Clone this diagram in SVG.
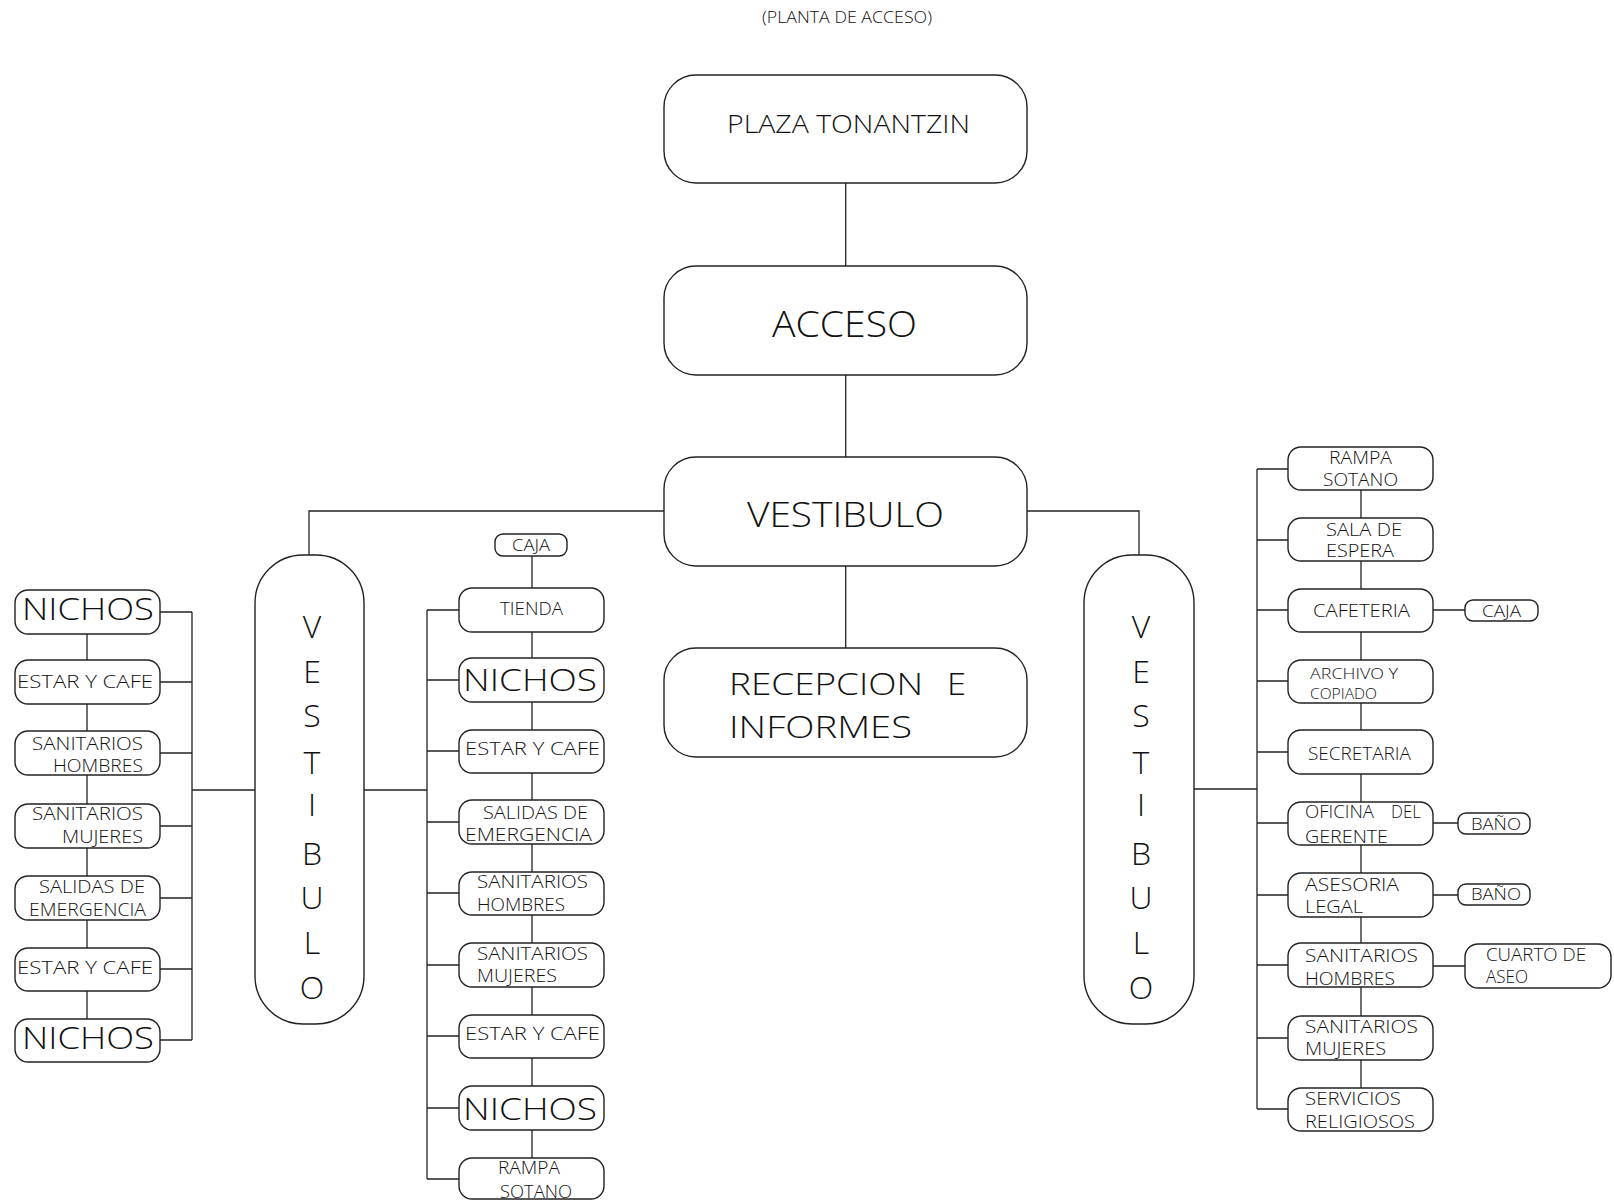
<svg xmlns="http://www.w3.org/2000/svg" width="1614" height="1200" viewBox="0 0 1614 1200">
<style>
.b{fill:#fff;stroke:#222;stroke-width:1.4}
.c{fill:none;stroke:#222;stroke-width:1.3}
text{font-family:"Open Sans","Liberation Sans",sans-serif;font-weight:300;fill:#111}
.s{font-size:18px}
.m{font-size:32px}
</style>
<rect width="1614" height="1200" fill="#fff"/>
<g id="connectors" class="c">
<path d="M845.7 183V266M845.7 375V457M845.7 566V648"/>
<path d="M664 511H309V555M1027 511H1139V555"/>
<path d="M255 790H192M192 612V1040M160 612H192M160 682H192M160 753H192M160 826H192M160 898H192M160 969H192M160 1040H192"/>
<path d="M87 634V1019"/>
<path d="M364 790H427M427 610V1179M427 610H459M427 680H459M427 751H459M427 822H459M427 893H459M427 965H459M427 1036H459M427 1108H459M427 1179H459"/>
<path d="M532 556V1158"/>
<path d="M1194 789H1257M1257 469V1109M1257 469H1288M1257 540H1288M1257 610H1288M1257 681H1288M1257 752H1288M1257 823H1288M1257 895H1288M1257 965H1288M1257 1038H1288M1257 1109H1288"/>
<path d="M1361 490V1088"/>
<path d="M1433 610H1465M1433 823H1458M1433 895H1458M1433 966H1465"/>
</g>
<text x="762" y="23" font-size="16" textLength="170" lengthAdjust="spacingAndGlyphs">(PLANTA DE ACCESO)</text>
<g id="plaza"><rect class="b" x="664" y="75" width="363" height="108" rx="32"/><text x="727" y="133" font-size="25" textLength="243" lengthAdjust="spacingAndGlyphs">PLAZA TONANTZIN</text></g>
<g id="acceso"><rect class="b" x="664" y="266" width="363" height="109" rx="32"/><text x="772" y="337" font-size="37" textLength="145" lengthAdjust="spacingAndGlyphs">ACCESO</text></g>
<g id="vestibulo"><rect class="b" x="664" y="457" width="363" height="109" rx="32"/><text x="747" y="527" font-size="35" textLength="197" lengthAdjust="spacingAndGlyphs">VESTIBULO</text></g>
<g id="recepcion"><rect class="b" x="664" y="648" width="363" height="109" rx="32"/><text x="729" y="695" font-size="32" textLength="194" lengthAdjust="spacingAndGlyphs">RECEPCION</text><text x="947" y="695" font-size="32" textLength="19" lengthAdjust="spacingAndGlyphs">E</text><text x="729" y="738" font-size="32" textLength="183" lengthAdjust="spacingAndGlyphs">INFORMES</text></g>
<g id="vest-left"><rect class="b" x="255" y="555" width="109" height="469" rx="48"/>
<g class="m" text-anchor="middle"><text x="312" y="638">V</text><text x="312" y="683">E</text><text x="312" y="727">S</text><text x="312" y="774">T</text><text x="312" y="816">I</text><text x="312" y="865">B</text><text x="312" y="909">U</text><text x="312" y="954">L</text><text x="312" y="999">O</text></g></g>
<g id="vest-right"><rect class="b" x="1084" y="555" width="110" height="469" rx="48"/>
<g class="m" text-anchor="middle"><text x="1141" y="638">V</text><text x="1141" y="683">E</text><text x="1141" y="727">S</text><text x="1141" y="774">T</text><text x="1141" y="816">I</text><text x="1141" y="865">B</text><text x="1141" y="909">U</text><text x="1141" y="954">L</text><text x="1141" y="999">O</text></g></g>
<g id="l1"><rect class="b" x="15" y="590" width="145" height="44" rx="13"/><text x="22" y="620" font-size="31" textLength="132" lengthAdjust="spacingAndGlyphs">NICHOS</text></g>
<g id="l2"><rect class="b" x="15" y="660" width="145" height="44" rx="13"/><text class="s" x="17" y="688" textLength="136" lengthAdjust="spacingAndGlyphs">ESTAR Y CAFE</text></g>
<g id="l3"><rect class="b" x="15" y="731" width="145" height="44" rx="13"/><text class="s" x="32" y="750" textLength="111" lengthAdjust="spacingAndGlyphs">SANITARIOS</text><text class="s" x="53" y="772" textLength="90" lengthAdjust="spacingAndGlyphs">HOMBRES</text></g>
<g id="l4"><rect class="b" x="15" y="804" width="145" height="44" rx="13"/><text class="s" x="32" y="820" textLength="111" lengthAdjust="spacingAndGlyphs">SANITARIOS</text><text class="s" x="62" y="843" textLength="81" lengthAdjust="spacingAndGlyphs">MUJERES</text></g>
<g id="l5"><rect class="b" x="15" y="876" width="145" height="44" rx="13"/><text class="s" x="39" y="893" textLength="106" lengthAdjust="spacingAndGlyphs">SALIDAS DE</text><text class="s" x="29" y="916" textLength="117" lengthAdjust="spacingAndGlyphs">EMERGENCIA</text></g>
<g id="l6"><rect class="b" x="15" y="948" width="145" height="43" rx="13"/><text class="s" x="17" y="974" textLength="136" lengthAdjust="spacingAndGlyphs">ESTAR Y CAFE</text></g>
<g id="l7"><rect class="b" x="15" y="1019" width="145" height="43" rx="13"/><text x="22" y="1049" font-size="31" textLength="132" lengthAdjust="spacingAndGlyphs">NICHOS</text></g>
<g id="m0"><rect class="b" x="495" y="534" width="72" height="22" rx="8"/><text x="512" y="551" font-size="16" textLength="38" lengthAdjust="spacingAndGlyphs">CAJA</text></g>
<g id="m1"><rect class="b" x="459" y="588" width="145" height="44" rx="13"/><text class="s" x="500" y="615" textLength="63" lengthAdjust="spacingAndGlyphs">TIENDA</text></g>
<g id="m2"><rect class="b" x="459" y="658" width="145" height="44" rx="13"/><text x="463" y="691" font-size="31" textLength="134" lengthAdjust="spacingAndGlyphs">NICHOS</text></g>
<g id="m3"><rect class="b" x="459" y="730" width="145" height="43" rx="13"/><text class="s" x="465" y="755" textLength="135" lengthAdjust="spacingAndGlyphs">ESTAR Y CAFE</text></g>
<g id="m4"><rect class="b" x="459" y="800" width="145" height="44" rx="13"/><text class="s" x="483" y="819" textLength="105" lengthAdjust="spacingAndGlyphs">SALIDAS DE</text><text class="s" x="465" y="841" textLength="127" lengthAdjust="spacingAndGlyphs">EMERGENCIA</text></g>
<g id="m5"><rect class="b" x="459" y="872" width="145" height="43" rx="13"/><text class="s" x="477" y="888" textLength="111" lengthAdjust="spacingAndGlyphs">SANITARIOS</text><text class="s" x="477" y="911" textLength="88" lengthAdjust="spacingAndGlyphs">HOMBRES</text></g>
<g id="m6"><rect class="b" x="459" y="943" width="145" height="44" rx="13"/><text class="s" x="477" y="960" textLength="111" lengthAdjust="spacingAndGlyphs">SANITARIOS</text><text class="s" x="477" y="982" textLength="80" lengthAdjust="spacingAndGlyphs">MUJERES</text></g>
<g id="m7"><rect class="b" x="459" y="1015" width="145" height="43" rx="13"/><text class="s" x="465" y="1040" textLength="135" lengthAdjust="spacingAndGlyphs">ESTAR Y CAFE</text></g>
<g id="m8"><rect class="b" x="459" y="1086" width="145" height="44" rx="13"/><text x="463" y="1120" font-size="31" textLength="134" lengthAdjust="spacingAndGlyphs">NICHOS</text></g>
<g id="m9"><rect class="b" x="459" y="1158" width="145" height="41" rx="13"/><text class="s" x="498" y="1174" textLength="62" lengthAdjust="spacingAndGlyphs">RAMPA</text><text class="s" x="500" y="1198" textLength="72" lengthAdjust="spacingAndGlyphs">SOTANO</text></g>
<g id="r1"><rect class="b" x="1288" y="447" width="145" height="43" rx="13"/><text class="s" x="1329" y="464" textLength="63" lengthAdjust="spacingAndGlyphs">RAMPA</text><text class="s" x="1323" y="486" textLength="75" lengthAdjust="spacingAndGlyphs">SOTANO</text></g>
<g id="r2"><rect class="b" x="1288" y="518" width="145" height="43" rx="13"/><text class="s" x="1326" y="536" textLength="76" lengthAdjust="spacingAndGlyphs">SALA DE</text><text class="s" x="1326" y="557" textLength="68" lengthAdjust="spacingAndGlyphs">ESPERA</text></g>
<g id="r3"><rect class="b" x="1288" y="589" width="145" height="43" rx="13"/><text class="s" x="1313" y="617" textLength="97" lengthAdjust="spacingAndGlyphs">CAFETERIA</text></g>
<g id="r4"><rect class="b" x="1288" y="660" width="145" height="43" rx="13"/><text x="1310" y="679" font-size="15" textLength="88" lengthAdjust="spacingAndGlyphs">ARCHIVO Y</text><text x="1310" y="699" font-size="15" textLength="67" lengthAdjust="spacingAndGlyphs">COPIADO</text></g>
<g id="r5"><rect class="b" x="1288" y="730" width="145" height="44" rx="13"/><text class="s" x="1308" y="760" textLength="103" lengthAdjust="spacingAndGlyphs">SECRETARIA</text></g>
<g id="r6"><rect class="b" x="1288" y="802" width="145" height="43" rx="13"/><text class="s" x="1305" y="818" textLength="69" lengthAdjust="spacingAndGlyphs">OFICINA</text><text class="s" x="1391" y="818" textLength="30" lengthAdjust="spacingAndGlyphs">DEL</text><text class="s" x="1305" y="843" textLength="83" lengthAdjust="spacingAndGlyphs">GERENTE</text></g>
<g id="r7"><rect class="b" x="1288" y="873" width="145" height="44" rx="13"/><text class="s" x="1305" y="891" textLength="94" lengthAdjust="spacingAndGlyphs">ASESORIA</text><text class="s" x="1305" y="913" textLength="58" lengthAdjust="spacingAndGlyphs">LEGAL</text></g>
<g id="r8"><rect class="b" x="1288" y="943" width="145" height="44" rx="13"/><text class="s" x="1305" y="962" textLength="113" lengthAdjust="spacingAndGlyphs">SANITARIOS</text><text class="s" x="1305" y="985" textLength="90" lengthAdjust="spacingAndGlyphs">HOMBRES</text></g>
<g id="r9"><rect class="b" x="1288" y="1016" width="145" height="44" rx="13"/><text class="s" x="1305" y="1033" textLength="113" lengthAdjust="spacingAndGlyphs">SANITARIOS</text><text class="s" x="1305" y="1055" textLength="81" lengthAdjust="spacingAndGlyphs">MUJERES</text></g>
<g id="r10"><rect class="b" x="1288" y="1088" width="145" height="43" rx="13"/><text class="s" x="1305" y="1105" textLength="96" lengthAdjust="spacingAndGlyphs">SERVICIOS</text><text class="s" x="1305" y="1128" textLength="110" lengthAdjust="spacingAndGlyphs">RELIGIOSOS</text></g>
<g id="r-caja"><rect class="b" x="1465" y="600" width="73" height="21" rx="8"/><text x="1482" y="617" font-size="17" textLength="39" lengthAdjust="spacingAndGlyphs">CAJA</text></g>
<g id="r-bano1"><rect class="b" x="1458" y="813" width="72" height="21" rx="8"/><text x="1471" y="830" font-size="17" textLength="50" lengthAdjust="spacingAndGlyphs">BAÑO</text></g>
<g id="r-bano2"><rect class="b" x="1458" y="884" width="72" height="21" rx="8"/><text x="1471" y="900" font-size="17" textLength="50" lengthAdjust="spacingAndGlyphs">BAÑO</text></g>
<g id="r-cuarto"><rect class="b" x="1465" y="944" width="146" height="44" rx="13"/><text class="s" x="1486" y="961" textLength="100" lengthAdjust="spacingAndGlyphs">CUARTO DE</text><text class="s" x="1486" y="983" textLength="42" lengthAdjust="spacingAndGlyphs">ASEO</text></g>
</svg>
